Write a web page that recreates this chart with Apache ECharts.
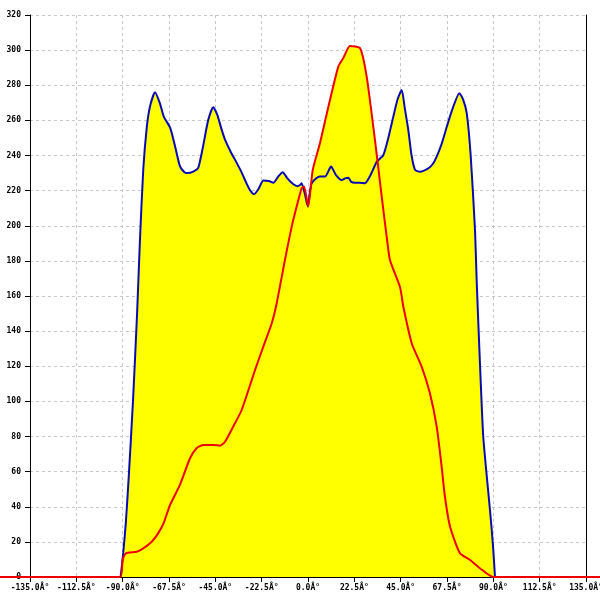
<!DOCTYPE html>
<html>
<head>
<meta charset="utf-8">
<script src="https://cdn.jsdelivr.net/npm/echarts@6/dist/echarts.min.js"></script>
<style>html,body{margin:0;padding:0;background:#fff}#c{width:600px;height:600px}</style>
</head>
<body>
<div id="c"></div>
<script>
// X tick labels (degrees)
const xTicks = [-135, -112.5, -90, -67.5, -45, -22.5, 0, 22.5, 45, 67.5, 90, 112.5, 135];
const yTicks = [0, 20, 40, 60, 80, 100, 120, 140, 160, 180, 200, 220, 240, 260, 280, 300, 320];

// Blue series: [angle, value]
const blueSeries = [
  [-91, 0], [-89.7, 14], [-88.4, 32], [-87, 58], [-85, 100], [-83, 150], [-81.6, 192],
  [-80, 232], [-78.3, 256], [-76.7, 268], [-74.3, 276], [-72, 270], [-70, 262],
  [-67, 256], [-64.5, 245], [-62.2, 234], [-60, 230.5], [-58.6, 230], [-55.5, 231],
  [-53.3, 233], [-51, 245], [-48.5, 260], [-46, 267.5], [-44, 263], [-42, 255],
  [-40.3, 249], [-37.5, 242], [-35.4, 237.5], [-32.5, 231], [-29.8, 224], [-28, 220],
  [-26.2, 218], [-24, 221], [-21.7, 225.7], [-19, 225.5], [-16.8, 224.5], [-14.5, 228],
  [-12.3, 230.5], [-10, 227], [-7.1, 223.6], [-5, 222.5], [-3.9, 223.2], [-3.1, 224.2],
  [-1.5, 218], [-0.1, 211], [1, 220], [1.8, 224.2], [4, 227], [5.8, 228], [8.3, 228],
  [11.2, 233.7], [13.5, 229], [16.4, 226], [18, 227], [19.6, 227.4], [21, 225],
  [22.8, 224.5], [25, 224.5], [27.7, 224.2], [30, 228], [32, 233], [33.4, 236.5],
  [36.6, 240.3], [39, 250], [41.4, 262], [43.5, 272], [45.5, 277.3], [47, 267],
  [48.7, 254.6], [50.3, 240], [52, 231.8], [54.4, 230.8], [58.4, 232.7], [60.5, 235],
  [62.5, 239.4], [65, 247], [67.4, 256.4], [70, 266], [73.5, 275.5], [75.3, 272],
  [77.1, 264], [79, 240], [81.1, 197.6], [81.9, 169], [83.5, 121.7], [85.1, 80],
  [87.6, 47.7], [89, 30], [90, 15], [90.8, 0]
];

// Red series: [angle, value]
const redSeries = [
  [-150, 0], [-91.3, 0], [-90, 9.7], [-88.4, 13.5], [-83.2, 14.4], [-80, 16.3],
  [-75.9, 20.1], [-72.7, 25], [-70, 31], [-67, 41], [-62.2, 52.4], [-57.3, 67.6],
  [-54.1, 73.3], [-50.8, 75.2], [-46, 75.2], [-42.7, 74.8], [-40.3, 77], [-35.5, 87.5],
  [-32.2, 95.1], [-25.7, 117.9], [-21.7, 131.2], [-17.6, 144.5], [-15.2, 155.9],
  [-11.2, 180.5], [-7.9, 199.5], [-5.5, 210.9], [-3.1, 221.3], [-1.9, 222.3],
  [0.1, 210.9], [2.3, 231.8], [5.8, 247], [9.9, 267.8], [14.7, 290.6], [17.1, 295.4],
  [20.4, 302.4], [25.3, 301.1], [28.5, 284.9], [32.5, 248.9], [35.8, 216.6],
  [38.2, 193.8], [39.8, 180.5], [44.7, 165], [46.3, 153.9], [50.4, 133], [55.2, 119.8],
  [59.2, 104.6], [62.5, 85.6], [64.9, 62.8], [66.5, 45.7], [69, 28.6], [73.8, 13.5],
  [78.7, 9.7], [83.5, 5], [90, 0], [150, 0]
];

const W = 600, GL = 30, GR = 14, GT = 15, GB = 23;
const xMin = xTicks[0], xMax = xTicks[xTicks.length - 1];
const degPerPx = (xMax - xMin) / (W - GL - GR);
const fontFam = 'DejaVu Sans Mono';
const chart = echarts.init(document.getElementById('c'));
chart.setOption({
  animation: false,
  backgroundColor: '#ffffff',
  grid: [
    { left: GL, right: GR, top: GT, bottom: GB, containLabel: false, outerBoundsMode: 'none' },
    { left: 0, right: 0, top: GT, bottom: GB, containLabel: false, outerBoundsMode: 'none' }
  ],
  xAxis: [{
    type: 'value', min: xMin, max: xMax, interval: 22.5,
    axisLine: { show: true, onZero: false, lineStyle: { color: '#000', width: 1 } },
    axisTick: { show: true, length: 5, lineStyle: { color: '#000' } },
    axisLabel: {
      color: '#000', fontFamily: fontFam, fontSize: 8, fontWeight: 'bold', margin: 7,
      hideOverlap: false,
      formatter: v => v.toFixed(1) + 'Â°'
    },
    splitLine: { show: true, lineStyle: { color: '#c8c8c8', type: [3, 3], width: 1 } }
  }, {
    type: 'value', gridIndex: 1, show: false,
    min: xMin - GL * degPerPx, max: xMax + GR * degPerPx
  }],
  yAxis: [{
    type: 'value', min: yTicks[0], max: yTicks[yTicks.length - 1], interval: 20,
    axisLine: { show: true, onZero: false, lineStyle: { color: '#000', width: 1 } },
    axisTick: { show: true, length: 5, lineStyle: { color: '#000' } },
    axisLabel: { color: '#000', fontFamily: fontFam, fontSize: 8, fontWeight: 'bold', margin: 9 },
    splitLine: { show: true, lineStyle: { color: '#c8c8c8', type: [3, 3], width: 1 } }
  }, {
    type: 'value', position: 'right', min: 0, max: 320, interval: 20,
    axisLine: { show: true, onZero: false, lineStyle: { color: '#000', width: 1 } },
    axisTick: { show: false }, axisLabel: { show: false }, splitLine: { show: false }
  }, {
    type: 'value', gridIndex: 1, show: false, min: 0, max: 320
  }],
  series: [
    { type: 'line', data: blueSeries, showSymbol: false, z: 1, smooth: 0.2,
      lineStyle: { width: 0 }, areaStyle: { color: '#ffff00', opacity: 1 } },
    { type: 'line', data: redSeries, showSymbol: false, z: 1, smooth: 0.2,
      lineStyle: { width: 0 }, areaStyle: { color: '#ffff00', opacity: 1 } },
    { type: 'line', data: blueSeries, showSymbol: false, z: 3, smooth: 0.2,
      lineStyle: { width: 2, color: '#0a0ab4' } },
    { type: 'line', data: redSeries, xAxisIndex: 1, yAxisIndex: 2, showSymbol: false, z: 4, smooth: 0.2,
      lineStyle: { width: 2, color: '#ee0000' } }
  ]
});
</script>
</body>
</html>
